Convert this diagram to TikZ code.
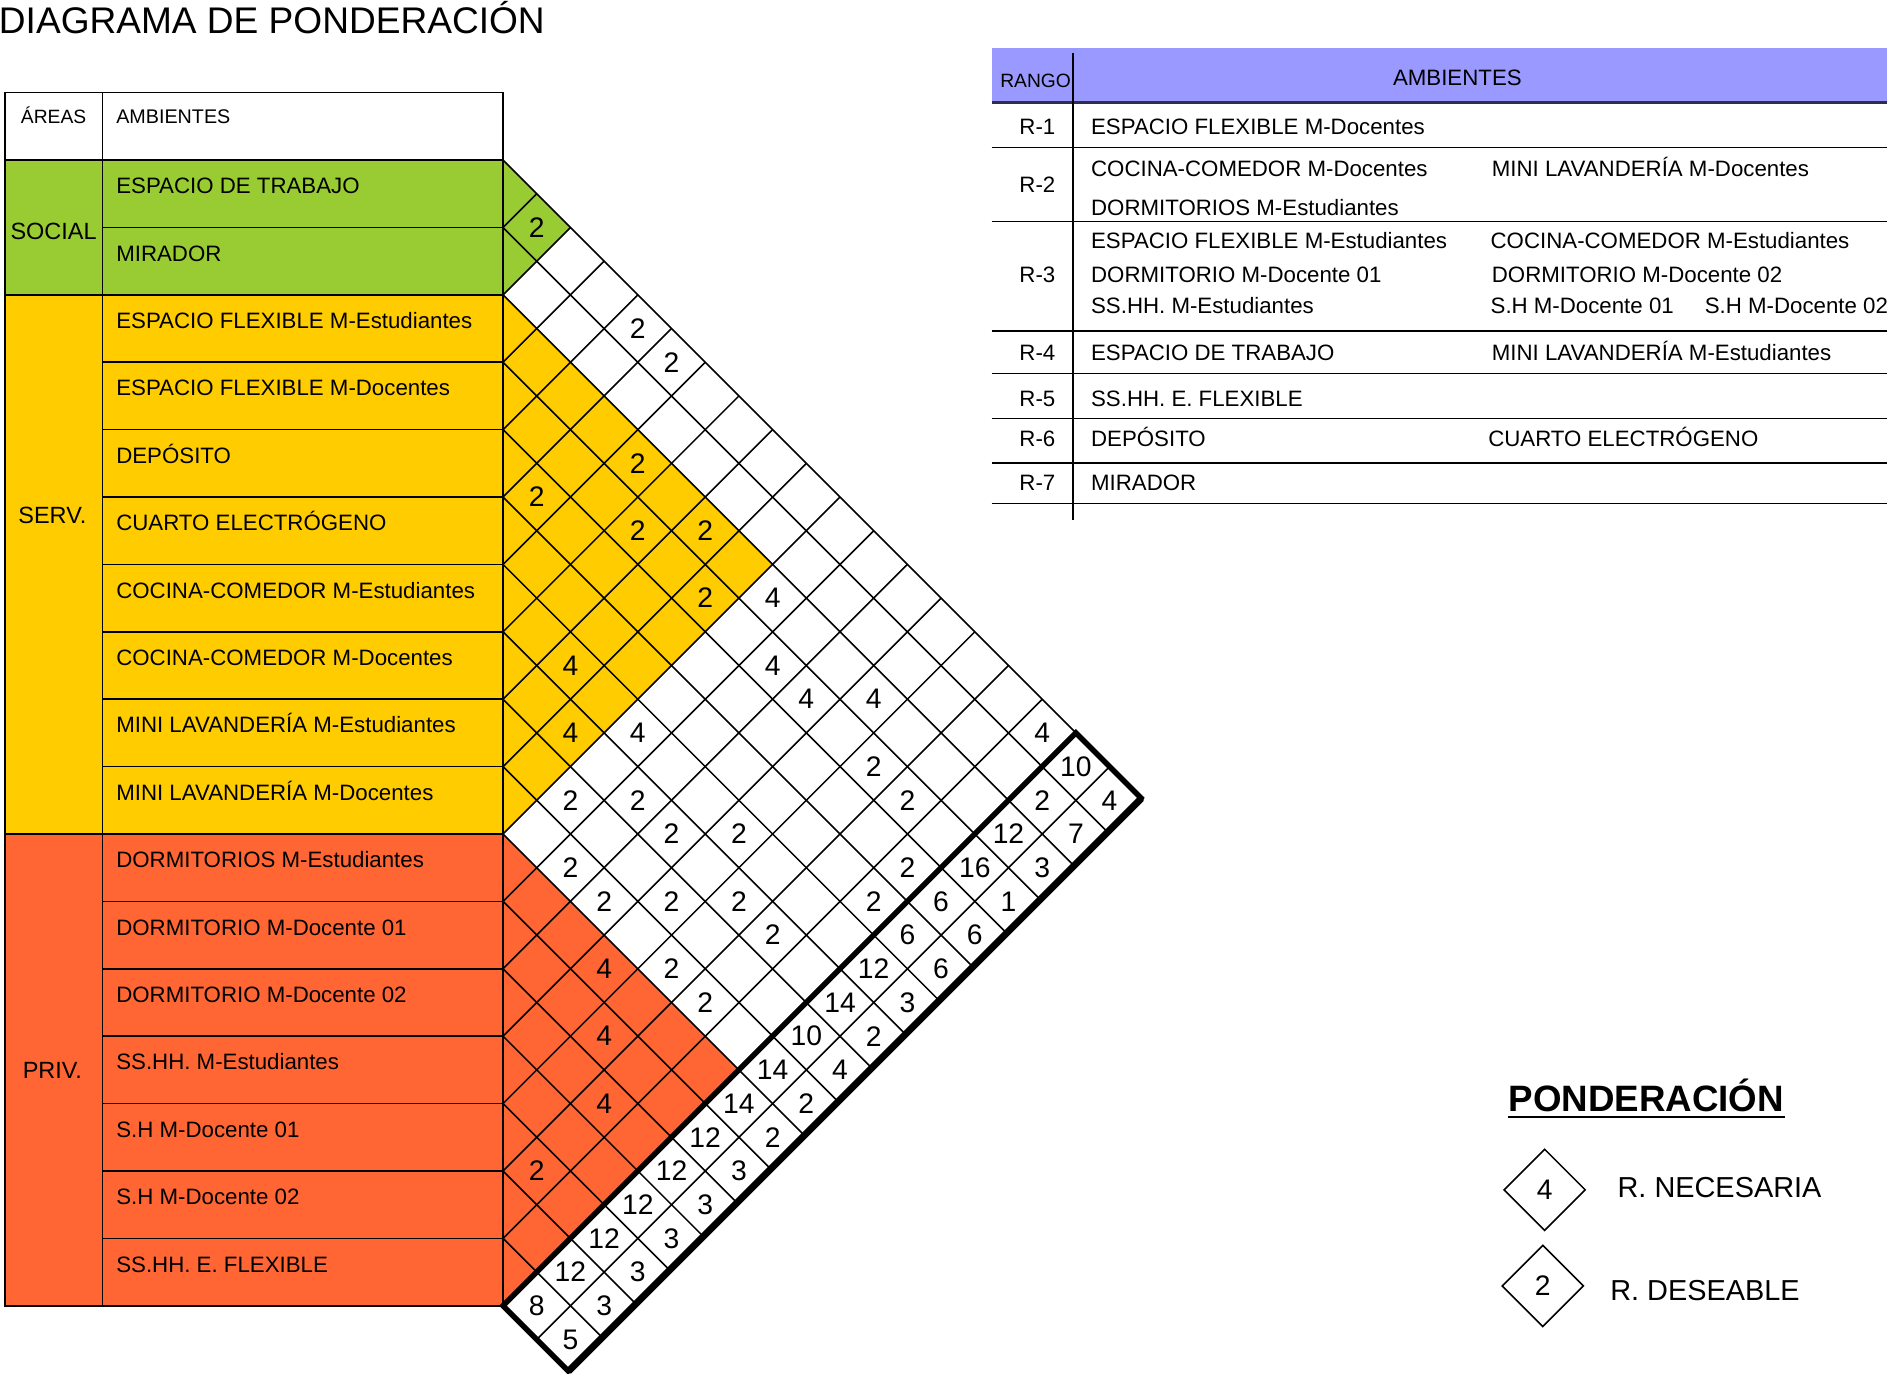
\documentclass[tikz,border=0pt]{standalone}
\usepackage{fontspec}
\setmainfont{Liberation Sans}
\usepackage{xcolor}
\usepackage{tikz}
\usetikzlibrary{positioning,shapes.geometric}
\definecolor{verde}{HTML}{99CC33}
\definecolor{amarillo}{HTML}{FFCC00}
\definecolor{rojo}{HTML}{FF6633}
\definecolor{lila}{HTML}{9999FF}
\definecolor{azuloscuro}{HTML}{2E2E4A}
\begin{document}
\begin{tikzpicture}[x=1pt,y=-1pt,line width=1.3pt,
amb/.style={anchor=base west,inner sep=0pt,font=\fontsize{18.5}{20}\selectfont},
area/.style={anchor=base,inner sep=0pt,font=\fontsize{19.5}{21}\selectfont},
rango/.style={anchor=base,inner sep=0pt,font=\fontsize{18.5}{20}\selectfont},
num/.style={inner sep=0pt,font=\fontsize{23.5}{25}\selectfont}]
\useasboundingbox(0,0)rectangle(1568,1141);
\draw(-1.5,27.7)node[anchor=base west,inner sep=0pt,font=\fontsize{30.8}{32}\selectfont](titulo){DIAGRAMA DE PONDERACIÓN};
% tabla de areas
\fill[verde](4,133)rectangle(418,245);
\fill[amarillo](4,245)rectangle(418,693);
\fill[rojo](4,693)rectangle(418,1085);
\fill[verde](418,133)--(474,189)--(418,245)--cycle;
\fill[amarillo](418,245)--(642,469)--(418,693)--cycle;
\fill[rojo](418,693)--(614,889)--(418,1085)--cycle;
\draw(4,77)rectangle(418,1085);
\draw(85,77)--(85,1085);
\foreach \y in {133,245,693} \draw(4,\y)--(418,\y);
\foreach \i in {1,...,16} \draw(85,{133+56*\i})--(418,{133+56*\i});
\draw(44.5,103)node[anchor=base,inner sep=0pt,font=\fontsize{16}{18}\selectfont](hareas){ÁREAS};
\draw(96,103)node[anchor=base west,inner sep=0pt,font=\fontsize{16.4}{18}\selectfont](hamb){AMBIENTES};
\draw(44.5,199)node[area](social){SOCIAL};
\draw(43.5,435)node[area](serv){SERV.};
\draw(43.5,896)node[area](priv){PRIV.};
\foreach \t [count=\i] in {ESPACIO DE TRABAJO,MIRADOR,ESPACIO FLEXIBLE M-Estudiantes,ESPACIO FLEXIBLE M-Docentes,DEPÓSITO,CUARTO ELECTRÓGENO,COCINA-COMEDOR M-Estudiantes,COCINA-COMEDOR M-Docentes,MINI LAVANDERÍA M-Estudiantes,MINI LAVANDERÍA M-Docentes,DORMITORIOS M-Estudiantes,DORMITORIO M-Docente 01,DORMITORIO M-Docente 02,SS.HH. M-Estudiantes,S.H M-Docente 01,S.H M-Docente 02,SS.HH. E. FLEXIBLE}
  \draw(96,{105+56*\i})node[amb](amb\i){\t};
% rombos
\foreach \k in {0,...,17} \draw(418,{133+56*\k})--({950-28*\k},{665+28*\k});
\foreach \m in {1,...,17} \draw({418+28*\m},{133+28*\m})--(418,{133+56*\m});
\draw(922,637)--(446,1113);
\draw(950,665)--(474,1141);
\draw[line width=4.5pt,line join=miter](894,609)--(948,663)--(472,1139)--(418,1085)--cycle;
\foreach \u/\v/\w in {1/2/2,1/5/2,1/6/2,1/17/4,3/7/2,3/9/2,3/11/4,3/14/4,4/8/2,4/10/2,4/12/4,4/13/4,4/15/2,4/16/2,5/6/2,5/17/2,6/17/2,7/9/4,7/11/4,7/14/2,8/10/4,8/12/2,8/13/2,8/15/2,8/16/2,9/11/2,9/14/2,10/12/2,10/13/2,10/15/2,10/16/2,11/14/4,12/15/4,13/16/4,15/16/2}
  \draw({418+28*(\v-\u)},{105+28*(\u+\v)})node[num](c\u-\v){\w};
\foreach \w [count=\u] in {10,2,12,16,6,6,12,14,10,14,14,12,12,12,12,12,8}
  \draw({418+28*(18-\u)},{105+28*(\u+18)})node[num](suma\u){\w};
\foreach \w [count=\u] in {4,7,3,1,6,6,3,2,4,2,2,3,3,3,3,3,5}
  \draw({418+28*(19-\u)},{105+28*(\u+19)})node[num](rango\u){\w};
% tabla de rangos
\fill[lila](824,39.5)rectangle(1575,84.5);
\draw[line width=2.5pt,azuloscuro](824,85)--(1575,85);
\draw(891.5,44)--(891.5,432);
\foreach \y in {122.4,184.2,275,310.2,347.6,384.5,418.3} \draw(824,\y)--(1575,\y);
\draw(860.5,72.9)node[anchor=base,inner sep=0pt,font=\fontsize{16}{18}\selectfont](hrango){RANGO};
\draw(1211,71.2)node[rango](hamb2){AMBIENTES};
\foreach \y [count=\n] in {111.4,159.8,234.9,299.7,337.4,371.2,407.7}
  \draw(862,\y)node[rango](r\n){R-\n};
\foreach \x/\y/\t [count=\n] in {906/111.4/ESPACIO FLEXIBLE M-Docentes,906/146.3/COCINA-COMEDOR M-Docentes,1239/146.3/MINI LAVANDERÍA M-Docentes,906/178.7/DORMITORIOS M-Estudiantes,906/206.4/ESPACIO FLEXIBLE M-Estudiantes,1238/206.4/COCINA-COMEDOR M-Estudiantes,906/234.9/DORMITORIO M-Docente 01,1239/234.9/DORMITORIO M-Docente 02,906/260.4/SS.HH. M-Estudiantes,1238/260.4/S.H M-Docente 01,1416/260.4/S.H M-Docente 02,906/299.7/ESPACIO DE TRABAJO,1239/299.7/MINI LAVANDERÍA M-Estudiantes,906/337.4/SS.HH. E. FLEXIBLE,906/371.2/DEPÓSITO,1236/371.2/CUARTO ELECTRÓGENO,906/407.7/MIRADOR}
  \draw(\x,\y)node[amb](ra\n){\t};
% leyenda
\draw(1253,923.2)node[anchor=base west,inner sep=0pt,font=\bfseries\fontsize{30.5}{32}\selectfont](pond){PONDERACIÓN};
\draw[line width=2pt]([yshift=-3.8pt]pond.south west)--([yshift=-3.8pt]pond.south east);
\draw(1283.5,988.7)node[num,diamond,draw,minimum size=68pt](nec){4};
\draw(1282,1068.5)node[num,diamond,draw,minimum size=68pt](des){2};
\draw(1343.5,995.3)node[anchor=base west,inner sep=0pt,font=\fontsize{24}{25}\selectfont](tnec){R. NECESARIA};
\draw(1337.4,1080.3)node[anchor=base west,inner sep=0pt,font=\fontsize{24}{25}\selectfont](tdes){R. DESEABLE};
\end{tikzpicture}
\end{document}
